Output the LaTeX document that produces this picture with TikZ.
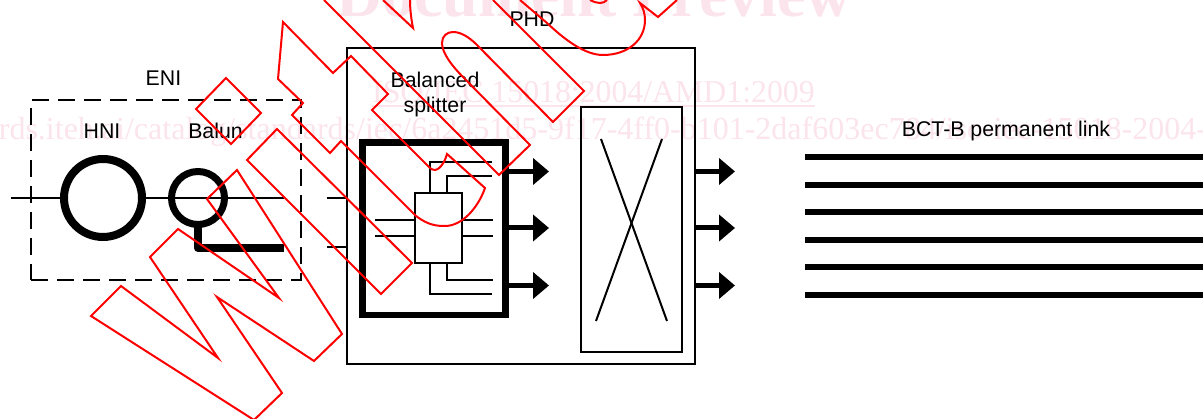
\documentclass[tikz,border=0pt]{standalone}
\usepackage{fontspec}
\setmainfont{Liberation Sans}
\newfontfamily\wmfont{Liberation Serif}
\usetikzlibrary{arrows.meta}
\definecolor{wmpink}{RGB}{251,228,235}
\tikzset{
  x=1pt,y=-1pt,
  lab/.style={anchor=base,inner sep=0,font=\fontsize{21.3}{24}\selectfont},
  wm/.style={anchor=base,inner sep=0,text=wmpink,font=\wmfont\fontsize{31.8}{36}\selectfont},
  thinbox/.style={draw=black,line width=2pt,inner sep=0,outer sep=0},
  ring/.style={circle,draw=black,inner sep=0,outer sep=0},
  wire/.style={draw=black,line width=2pt},
  port/.style={draw=black,line width=5pt,-{Triangle[length=16pt,width=26pt]}},
  link/.style={draw=black,line width=6pt},
  wout/.style={draw=red,line width=2pt,line join=miter,miter limit=10},
}
\begin{document}
\begin{tikzpicture}
\useasboundingbox (0,0) rectangle (1203,419);
\clip (0,0) rectangle (1203,419);
% watermark text
\node[wm,font=\wmfont\bfseries\fontsize{64}{70}\selectfont] (wmtitle) at (594,17) {Document Preview};
\node[wm,anchor=base west] (wmiso) at (372,103) {ISO/IEC 15018:2004/AMD1:2009};
\draw[wmpink,line width=1.2pt] (372,106) -- (815,106);
\node[wm,anchor=base west,font=\wmfont\fontsize{32}{36}\selectfont] (wmurl) at (-172,140) {https://standards.iteh.ai/catalog/standards/iec/6a2451d5-9f17-4ff0-b101-2daf603ec784/iso-iec-15018-2004-amd1-2009};
% ENI
\node[thinbox,dash pattern=on 17pt off 9pt,minimum width=270pt,minimum height=180pt] (eni) at (166,190) {};
\coordinate (linestart) at (11,198);
\coordinate (lineend) at (284,198);
\draw[wire] (linestart) -- (lineend);
\node[ring,fill=white,line width=8pt,minimum size=78pt] (hni) at (103,198) {};
\node[ring,line width=7pt,minimum size=53pt] (balun) at (198,198) {};
\coordinate (lend) at (284,248);
\draw[draw=black,line width=8pt,line join=round] (balun.south) -- (198,248) -- (lend);
\node[lab] (enilab) at (163.5,86) {ENI};
\node[lab] (hnilab) at (102,139) {HNI};
\node[lab] (balunlab) at (215.5,139) {Balun};
% PHD
\node[thinbox,minimum width=348pt,minimum height=316pt] (phd) at (521,206) {};
\node[lab] (phdlab) at (532,27) {PHD};
\node[lab] (ballab) at (435,88) {Balanced};
\node[lab] (splab) at (435,113) {splitter};
\coordinate (stubA) at (327,198);
\coordinate (stubB) at (327,247);
\draw[wire] (stubA) -- (stubA -| phd.west);
\draw[wire] (stubB) -- (stubB -| phd.west);
% splitter
\node[draw=black,line width=6.5pt,inner sep=0,outer sep=0,minimum width=143pt,minimum height=172.5pt] (split) at (434,228.75) {};
\node[thinbox,minimum width=47pt,minimum height=70pt] (core) at (438.5,228) {};
\foreach \yy in {220,236}{
  \draw[wire] (375,\yy) -- (core.west |- 0,\yy);
  \draw[wire] (core.east |- 0,\yy) -- (493,\yy);
}
\draw[wire] (430,193) -- (430,162.5) -- (492,162.5);
\draw[wire] (447,193) -- (447,176) -- (492,176);
\draw[wire] (447,263) -- (447,280) -- (493,280);
\draw[wire] (430,263) -- (430,294) -- (492,294);
% arrows
\foreach \yy in {171.5,228,285.5}{
  \draw[port] (split.east |- 0,\yy) -- (549,\yy);
  \draw[port] (phd.east |- 0,\yy) -- (735,\yy);
}
% crossbar
\node[thinbox,minimum width=101pt,minimum height=244.5pt] (xbar) at (631.5,229.5) {};
\coordinate (xa) at (601,139);
\coordinate (xb) at (667,321);
\coordinate (xc) at (662,139);
\coordinate (xd) at (596,321);
\draw[wire] (xa) -- (xb);
\draw[wire] (xc) -- (xd);
% permanent link
\node[lab] (bctlab) at (1006,137) {BCT-B permanent link};
\foreach \yy in {157.5,185,212.5,240,267.5,295}{
  \draw[link] (805,\yy) -- (1203,\yy);
}
% Withdrawn outlines
\draw[wout] (91,316) -- (121,286) -- (218,358) -- (150,257) -- (178,229) -- (279,298) -- (207,199) -- (237,170) -- (342,334) -- (314,361) -- (217,297) -- (282,393) -- (254,420) -- cycle;
\draw[wout] (226,78) -- (261,113) -- (231,144) -- (196,109) -- cycle;
\draw[wout] (247,160) -- (277,129) -- (412,263) -- (381,294) -- cycle;
\draw[wout] (283,22) -- (278,79) -- (303,103) -- (292,115) -- (330,153) -- (341,141) -- (416,216) .. controls (428,225) and (436,226) .. (445,226) .. controls (462,226) and (478,208) .. (485,188) -- (447,154) .. controls (444,165) and (438,170) .. (435,170) .. controls (433,170) and (431,169) .. (430,168) -- (372,110) -- (388,94) -- (351,56) -- (333,73) -- cycle;
\draw[wout] (324,0) -- (499,175) -- (530,145) -- (463,77) .. controls (452,66) and (442,53) .. (442,43) .. controls (442,36) and (447,32) .. (453,32) .. controls (460,32) and (468,36) .. (477,45) -- (553,122) -- (584,91) -- (493,0);
\draw[wout] (383,0) -- (413,28) .. controls (411,18) and (410,8) .. (410,0);
\draw[wout] (520,0) -- (547,23) .. controls (565,40) and (585,55) .. (603,55) .. controls (628,55) and (645,40) .. (645,20) .. controls (645,13) and (643,8) .. (640,3) -- (658,17) -- (677,0);
\draw[wout] (590,0) .. controls (594,2) and (597,3) .. (600,3) .. controls (603,3) and (605,2) .. (607,0);
\end{tikzpicture}
\end{document}
